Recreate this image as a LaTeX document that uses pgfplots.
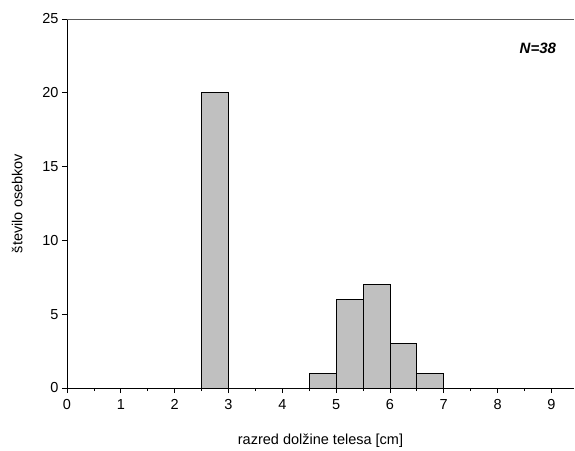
\documentclass[border=0pt]{standalone}
\usepackage{pgfplots}
\pgfplotsset{compat=1.18}
\usepackage{fontspec}
\setmainfont{Liberation Sans}
\begin{document}
\begin{tikzpicture}
\begin{axis}[
  at={(0,0)}, anchor=south west,
  scale only axis, width=507bp, height=369bp,
  xmin=0, xmax=9.42, ymin=0, ymax=25,
  axis x line*=bottom, axis y line*=left,
  axis line style={black, line width=0.8pt},
  xtick={0,1,...,9}, minor xtick={0.5,1.5,...,9},
  ytick={0,5,...,25},
  tick align=outside,
  major tick length=5bp, minor tick length=3bp,
  tick style={black, line width=0.8pt},
  tick label style={font=\fontsize{14.5bp}{17bp}\selectfont},
  xticklabel style={yshift=-3bp},
  /pgf/number format/assume math mode=true,
  xlabel={razred dolžine telesa [cm]},
  ylabel={število osebkov},
  label style={font=\fontsize{14.5bp}{17bp}\selectfont},
  xlabel style={yshift=-17bp},
  ylabel style={yshift=13bp},
  clip=false,
]
\addplot[ybar interval, fill={rgb,255:red,192;green,192;blue,192}, draw=black, line width=0.8pt]
  coordinates {(2.5,20) (3,0) (4.5,1) (5,6) (5.5,7) (6,3) (6.5,1) (7,1)};
\draw[gray!70!black, line width=0.8pt] (rel axis cs:0,1) -- (rel axis cs:1,1);
\node[anchor=east, font=\fontsize{15bp}{18bp}\selectfont\bfseries\itshape] at (axis cs:9.15,23) {N=38};
\end{axis}
\pgfresetboundingbox
\path[use as bounding box] (-67bp,-63bp) rectangle (508bp,388bp);
\end{tikzpicture}
\end{document}
